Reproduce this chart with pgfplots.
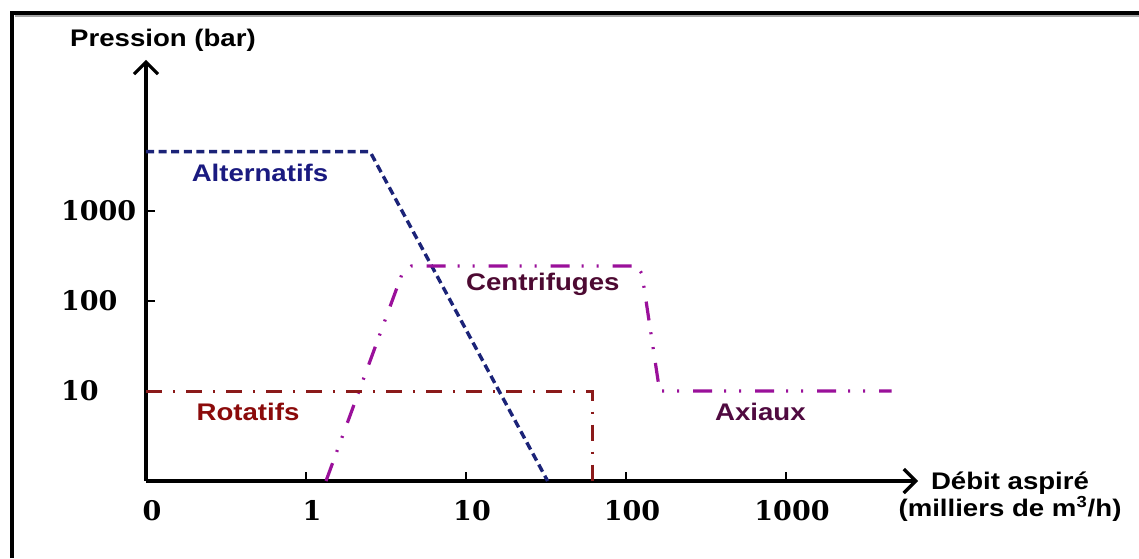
\documentclass[border=0pt]{standalone}
\usepackage{fontspec}
\usepackage{pgfplots}
\pgfplotsset{compat=1.18}
\usetikzlibrary{arrows.meta}
\newfontfamily\labfont{Liberation Sans}[FakeStretch=1.15]
\newfontfamily\tickfont{DejaVu Serif}
\definecolor{navyline}{HTML}{1B2378}
\definecolor{navytext}{HTML}{1A1A80}
\definecolor{magline}{HTML}{9A109A}
\definecolor{centtext}{HTML}{4D0A32}
\definecolor{axtext}{HTML}{500A40}
\definecolor{redline}{HTML}{8B1A1A}
\definecolor{redtext}{HTML}{8B0A0A}

% data (x: decades from origin, y: decades from origin)
\pgfplotstableread{
x y
0 3.66
1.40 3.66
2.51 0
}\alternatifs
\pgfplotstableread{
x y
1.125 0
1.60 2.30
1.66 2.39
3.07 2.39
3.10 2.30
3.21 1.0
4.66 1.0
}\centrifuges
\pgfplotstableread{
x y
0 1.0
2.79 1.0
2.79 0
}\rotatifs

\begin{document}
\begin{tikzpicture}
\begin{scope}[x=0.5pt,y=0.5pt]
\useasboundingbox (0,0) rectangle (1139,558);
\fill[white] (0,0) rectangle (1139,558);
\draw[gray!70, line width=1pt] (15,541.5) -- (1139,541.5);
\draw[line width=2pt] (12,0) -- (12,545) -- (1139,545);
\end{scope}
\begin{axis}[
  at={(73pt,38.5pt)}, anchor=south west,
  scale only axis, width=386pt, height=210.6pt,
  xmin=0, xmax=4.825, ymin=0, ymax=4.68,
  axis lines=left, clip=false,
  axis line style={line width=1.8pt, line join=round, -{Straight Barb[length=6pt,width=12pt,line width=1.6pt]}},
  xtick={0,1,2,3,4}, xticklabels={0,1,10,100,1000},
  ytick={1,2,3}, yticklabels={10,100,1000},
  xtick align=inside, ytick align=inside,
  major tick length=4.5pt,
  every tick/.style={line width=1.4pt, black},
  ticklabel style={font=\tickfont\bfseries\fontsize{13.5pt}{15pt}\selectfont},
  xticklabel style={yshift=-6pt, xshift=3pt},
  yticklabel style={anchor=west, xshift=-46pt},
]
\addplot[navyline, line width=1.7pt, dash pattern=on 4pt off 2.3pt] table {\alternatifs};
\addplot[magline, line width=1.6pt, dash pattern=on 9.5pt off 6pt on 1pt off 6.5pt on 1pt off 7pt] table {\centrifuges};
\addplot[redline, line width=1.5pt, dash pattern=on 8pt off 5.5pt on 1pt off 5.5pt] table {\rotatifs};

\node[font=\labfont\bfseries\fontsize{12pt}{13.5pt}\selectfont, text=navytext] at (axis cs:0.7125,3.42) {Alternatifs};
\node[font=\labfont\bfseries\fontsize{12pt}{13.5pt}\selectfont, text=centtext] at (axis cs:2.48,2.19) {Centrifuges};
\node[font=\labfont\bfseries\fontsize{12pt}{13.5pt}\selectfont, text=redtext] at (axis cs:0.6375,0.767) {Rotatifs};
\node[font=\labfont\bfseries\fontsize{12pt}{13.5pt}\selectfont, text=axtext] at (axis cs:3.84,0.767) {Axiaux};
\node[font=\labfont\bfseries\fontsize{12pt}{13.5pt}\selectfont] at (axis cs:0.106,4.9) {Pression (bar)};
\node[font=\labfont\bfseries\fontsize{12pt}{13.5pt}\selectfont, align=center, inner sep=0pt] at (axis cs:5.4,-0.17) {Débit aspiré\\(milliers de m\textsuperscript{3}/h)};
\end{axis}
\end{tikzpicture}
\end{document}
